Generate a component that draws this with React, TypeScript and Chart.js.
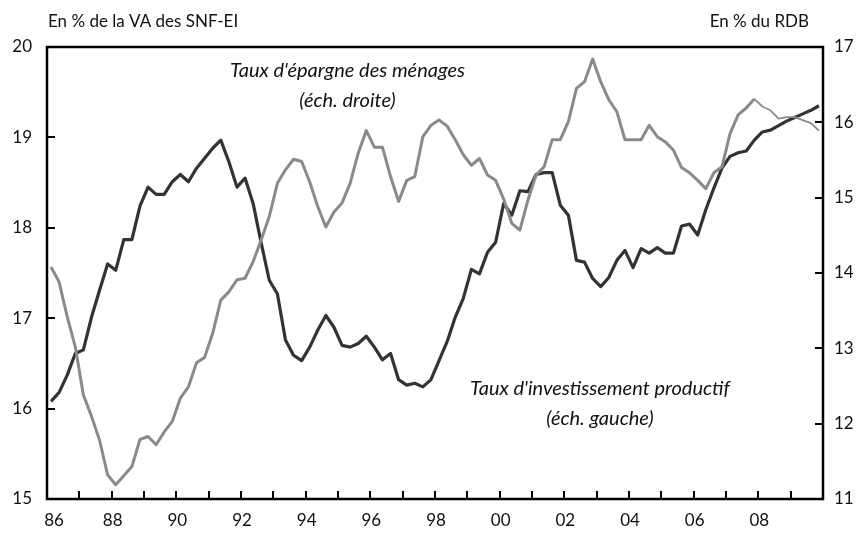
import React, { useEffect, useRef } from "react";
import { Chart, registerables } from "chart.js";

Chart.register(...registerables);

const startYear = 1986;
const investmentRate = [
  16.08, 16.18, 16.37, 16.61, 16.65, 17.01, 17.31, 17.6, 17.53, 17.87,
  17.87, 18.24, 18.45, 18.37, 18.37, 18.51, 18.59, 18.51, 18.66, 18.77,
  18.88, 18.97, 18.73, 18.45, 18.55, 18.27, 17.83, 17.42, 17.27, 16.76,
  16.59, 16.53, 16.68, 16.87, 17.03, 16.9, 16.7, 16.68, 16.72, 16.8,
  16.68, 16.54, 16.61, 16.32, 16.26, 16.28, 16.24, 16.32, 16.53, 16.74,
  17.01, 17.22, 17.54, 17.49, 17.73, 17.84, 18.27, 18.14, 18.41, 18.4,
  18.59, 18.61, 18.61, 18.25, 18.14, 17.64, 17.62, 17.44, 17.35, 17.45,
  17.64, 17.75, 17.56, 17.77, 17.72, 17.78, 17.72, 17.72, 18.02, 18.04,
  17.92, 18.2, 18.44, 18.66, 18.79, 18.83, 18.85, 18.97, 19.06, 19.08,
  19.13, 19.18, 19.22, 19.26, 19.3, 19.35,
];
const savingRate = [
  14.08, 13.88, 13.42, 13.02, 12.38, 12.1, 11.78, 11.32, 11.19, 11.31,
  11.43, 11.79, 11.83, 11.72, 11.89, 12.03, 12.34, 12.49, 12.81, 12.88,
  13.2, 13.64, 13.75, 13.91, 13.93, 14.15, 14.44, 14.75, 15.19, 15.37,
  15.51, 15.48, 15.21, 14.88, 14.61, 14.81, 14.93, 15.19, 15.59, 15.89,
  15.67, 15.67, 15.28, 14.95, 15.23, 15.28, 15.81, 15.96, 16.03, 15.95,
  15.77, 15.57, 15.43, 15.52, 15.3, 15.23, 14.98, 14.66, 14.57, 14.97,
  15.3, 15.41, 15.77, 15.77, 16.01, 16.45, 16.54, 16.84, 16.54, 16.3,
  16.14, 15.77, 15.77, 15.77, 15.96, 15.81, 15.74, 15.63, 15.4, 15.33,
  15.23, 15.12, 15.33, 15.41, 15.85, 16.1, 16.19, 16.31, 16.21, 16.16,
  16.05, 16.07, 16.07, 16.03, 15.99, 15.89,
];
const provisionalFrom = 87; // index from which the saving line is thinner

const xLabelYears = [1986, 1988, 1990, 1992, 1994, 1996, 1998, 2000, 2002, 2004, 2006, 2008];
const xTickYears = [
  1987, 1988, 1989, 1990, 1991, 1992, 1993, 1994, 1995, 1996, 1997, 1998,
  1999, 2000, 2001, 2002, 2003, 2004, 2005, 2006, 2007, 2008, 2009,
];
const leftTicks = [16, 17, 18, 19];
const rightTicks = [12, 13, 14, 15, 16];
const leftAxisTitle = "En % de la VA des SNF-EI";
const rightAxisTitle = "En % du RDB";
const savingLabel = ["Taux d'épargne des ménages", "(éch. droite)"];
const investLabel = ["Taux d'investissement productif", "(éch. gauche)"];

const DARK = "#333333";
const GREY = "#8a8a8a";
const FONT = "Lato, 'Open Sans', sans-serif";

function toPoints(values: number[]) {
  return values.map((v, i) => ({ x: startYear + (i + 0.5) / 4, y: v }));
}

function seg(ctx: CanvasRenderingContext2D, x1: number, y1: number, x2: number, y2: number) {
  ctx.beginPath();
  ctx.moveTo(x1, y1);
  ctx.lineTo(x2, y2);
  ctx.stroke();
}

const decorPlugin = {
  id: "decor",
  afterDraw(chart: any) {
    const ctx: CanvasRenderingContext2D = chart.ctx;
    const { left, right, top, bottom } = chart.chartArea;
    const xs = chart.scales.x;
    const yl = chart.scales.yL;
    const yr = chart.scales.yR;
    ctx.save();
    ctx.setLineDash([]);
    ctx.strokeStyle = "#000000";
    ctx.lineWidth = 2.5;
    ctx.strokeRect(left, top, right - left, bottom - top);
    ctx.lineWidth = 2;
    ctx.lineCap = "butt";
    const tl = 8;
    for (const v of leftTicks) {
      const p = Math.round(yl.getPixelForValue(v));
      seg(ctx, left, p, left + tl, p);
    }
    for (const v of rightTicks) {
      const p = Math.round(yr.getPixelForValue(v));
      seg(ctx, right, p, right - tl, p);
    }
    for (const v of xTickYears) {
      const p = Math.round(xs.getPixelForValue(v));
      seg(ctx, p, bottom, p, bottom - tl);
    }

    ctx.fillStyle = "#111";
    ctx.textBaseline = "middle";
    ctx.font = `17px ${FONT}`;
    ctx.textAlign = "center";
    for (const yr0 of xLabelYears) {
      let px = xs.getPixelForValue(yr0) + 1;
      if (px < left + 7) px = left + 7;
      ctx.fillText(String(yr0 % 100).padStart(2, "0"), px, 521);
    }

    ctx.textAlign = "left";
    ctx.fillText(leftAxisTitle, 48, 22);
    ctx.textAlign = "right";
    ctx.fillText(rightAxisTitle, 809, 22);

    ctx.font = `italic 20px ${FONT}`;
    ctx.textAlign = "center";
    const w1 = ctx.measureText(savingLabel[0]).width;
    const cx1 = 230 + w1 / 2;
    ctx.fillText(savingLabel[0], cx1, 71);
    ctx.fillText(savingLabel[1], cx1, 101);
    const w2 = ctx.measureText(investLabel[0]).width;
    const cx2 = 470 + w2 / 2;
    ctx.fillText(investLabel[0], cx2, 389);
    ctx.fillText(investLabel[1], cx2, 419);
    ctx.restore();
  },
};

export default function App() {
  const ref = useRef<HTMLCanvasElement | null>(null);
  useEffect(() => {
    document.body.style.margin = "0";
    const canvas = ref.current;
    if (!canvas) return;
    const chart = new Chart(canvas, {
      type: "line",
      data: {
        datasets: [
          {
            label: "Taux d'épargne des ménages",
            data: toPoints(savingRate),
            yAxisID: "yR",
            borderColor: GREY,
            borderWidth: 3,
            pointRadius: 0,
            tension: 0,
            borderJoinStyle: "round",
            segment: {
              borderWidth: (c: any) => (c.p0DataIndex >= provisionalFrom ? 1.8 : 3),
            },
          } as any,
          {
            label: "Taux d'investissement productif",
            data: toPoints(investmentRate),
            yAxisID: "yL",
            borderColor: DARK,
            borderWidth: 3.2,
            pointRadius: 0,
            tension: 0,
            borderJoinStyle: "round",
          } as any,
        ],
      },
      options: {
        responsive: false,
        animation: false,
        layout: { padding: { top: 47, left: 0, right: 0, bottom: 0 } },
        plugins: { legend: { display: false }, tooltip: { enabled: false } },
        scales: {
          x: {
            type: "linear",
            min: 1986,
            max: 2010,
            afterFit: (s: any) => {
              s.height = 36;
            },
            grid: { display: false, drawTicks: false },
            border: { display: false },
            ticks: { display: false, stepSize: 1 },
          },
          yL: {
            type: "linear",
            position: "left",
            min: 15,
            max: 20,
            afterFit: (s: any) => {
              s.width = 47;
            },
            grid: { display: false, drawTicks: false },
            border: { display: false },
            ticks: {
              stepSize: 1,
              padding: 15,
              color: "#111",
              font: { family: FONT, size: 17 },
            },
          },
          yR: {
            type: "linear",
            position: "right",
            min: 11,
            max: 17,
            afterFit: (s: any) => {
              s.width = 39;
            },
            grid: { display: false, drawTicks: false },
            border: { display: false },
            ticks: {
              stepSize: 1,
              padding: 11,
              color: "#111",
              font: { family: FONT, size: 17 },
            },
          },
        },
      },
      plugins: [decorPlugin],
    });
    return () => chart.destroy();
  }, []);
  return (
    <canvas
      ref={ref}
      width={862}
      height={535}
      style={{ display: "block", width: 862, height: 535 }}
    />
  );
}
